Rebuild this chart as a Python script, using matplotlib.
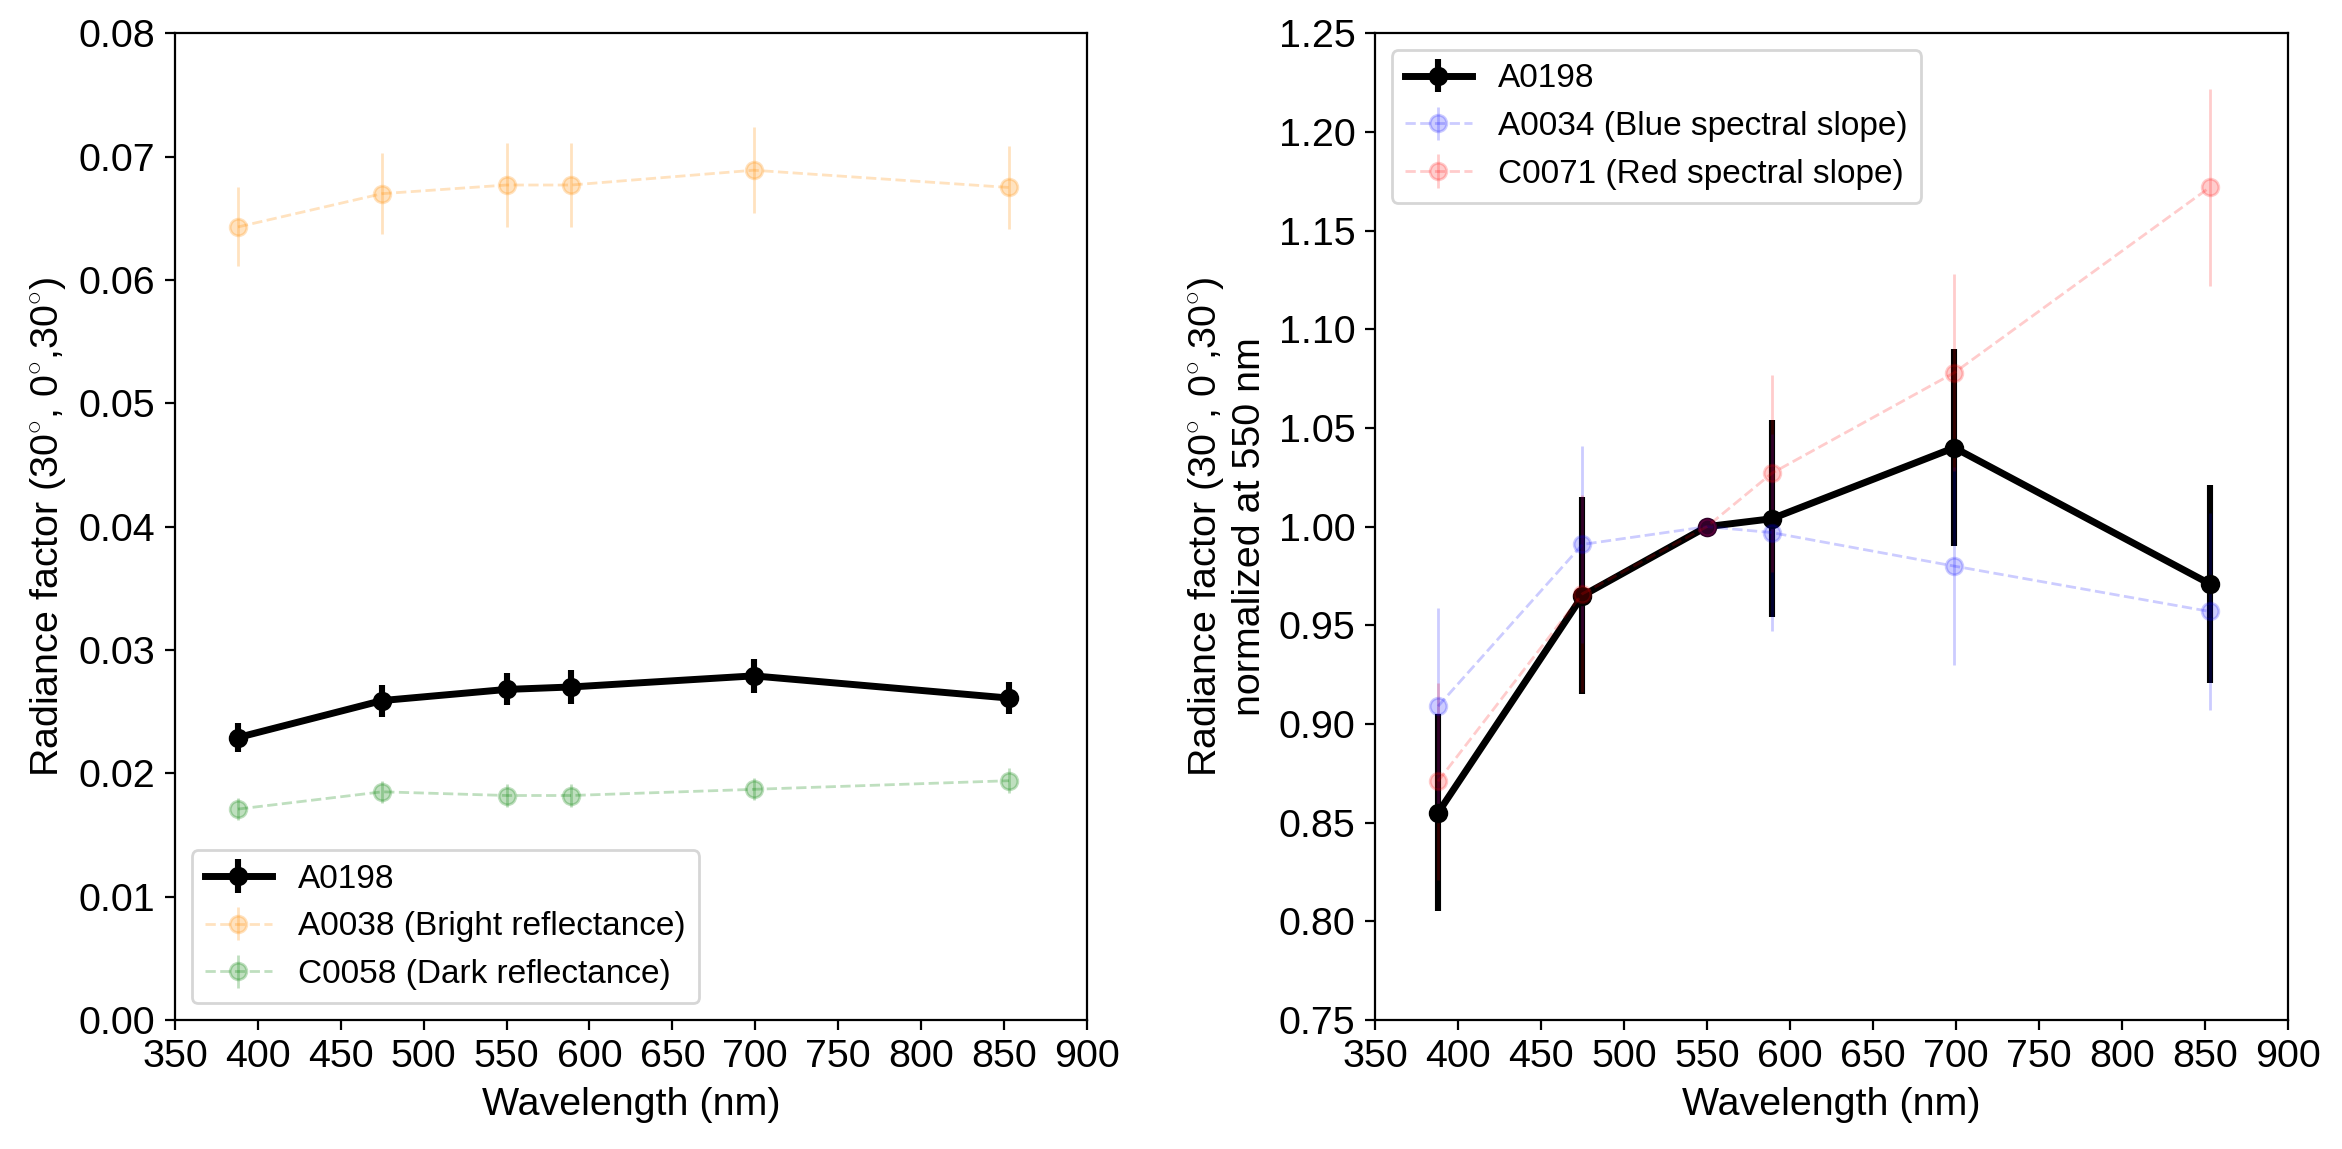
import numpy as np
import matplotlib
matplotlib.use("Agg")
import matplotlib.pyplot as plt

plt.rcParams['font.family'] = ['Liberation Sans', 'DejaVu Sans']
plt.rcParams['mathtext.fontset'] = 'custom'
plt.rcParams['mathtext.rm'] = 'Liberation Sans'

# wavelengths of the filters (nm)
wl = [388, 475, 550, 589, 699, 853]

# left panel: absolute radiance factor
a0198 = [0.0229, 0.0259, 0.0268, 0.0270, 0.0279, 0.0261]
a0198_err = [0.0012, 0.0013, 0.0013, 0.0014, 0.0014, 0.0013]
a0038 = [0.0643, 0.0670, 0.0677, 0.0677, 0.0689, 0.0675]
a0038_err = [0.0032, 0.0033, 0.0034, 0.0034, 0.0035, 0.0034]
c0058 = [0.0171, 0.0185, 0.0182, 0.0182, 0.0187, 0.0194]
c0058_err = [0.0009, 0.0009, 0.0009, 0.0009, 0.0009, 0.0010]

# right panel: normalized at 550 nm
a0198_n = [0.855, 0.965, 1.000, 1.004, 1.040, 0.971]
a0198_n_err = [0.05, 0.05, 0.0, 0.05, 0.05, 0.05]
a0034_n = [0.909, 0.991, 1.000, 0.997, 0.980, 0.957]
a0034_n_err = [0.05, 0.05, 0.0, 0.05, 0.05, 0.05]
c0071_n = [0.871, 0.966, 1.000, 1.027, 1.078, 1.172]
c0071_n_err = [0.05, 0.05, 0.0, 0.05, 0.05, 0.05]

ylab = "Radiance factor (30$^{\\circ}$, 0$^{\\circ}$,30$^{\\circ}$)"
fs = 14.2
lfs = 12

fig = plt.figure(figsize=(11.71, 5.745), dpi=200)
ax0 = fig.add_axes([0.0747, 0.1123, 0.3894, 0.8587])
ax1 = fig.add_axes([0.5871, 0.1123, 0.3898, 0.8587])

ax0.errorbar(wl, a0198, yerr=a0198_err, fmt='o-', color='k', lw=2.5, elinewidth=2.2, ms=6, label='A0198')
ax0.errorbar(wl, a0038, yerr=a0038_err, fmt='o--', color='darkorange', lw=1, ms=6, alpha=0.25, label='A0038 (Bright reflectance)')
ax0.errorbar(wl, c0058, yerr=c0058_err, fmt='o--', color='green', lw=1, ms=6, alpha=0.25, label='C0058 (Dark reflectance)')
ax0.set_xlim(350, 900)
ax0.set_ylim(0, 0.08)
ax0.set_xticks(np.arange(350, 901, 50))
ax0.set_xlabel("Wavelength (nm)", fontsize=fs)
ax0.set_ylabel(ylab, fontsize=fs)
ax0.tick_params(labelsize=fs)
ax0.legend(loc='lower left', fontsize=lfs)

ax1.errorbar(wl, a0198_n, yerr=a0198_n_err, fmt='o-', color='k', lw=2.5, elinewidth=2.2, ms=6, label='A0198')
ax1.errorbar(wl, a0034_n, yerr=a0034_n_err, fmt='o--', color='blue', lw=1, ms=6, alpha=0.2, label='A0034 (Blue spectral slope)')
ax1.errorbar(wl, c0071_n, yerr=c0071_n_err, fmt='o--', color='red', lw=1, ms=6, alpha=0.2, label='C0071 (Red spectral slope)')
ax1.set_xlim(350, 900)
ax1.set_ylim(0.75, 1.25)
ax1.set_xticks(np.arange(350, 901, 50))
ax1.set_yticks(np.arange(0.75, 1.2501, 0.05))
ax1.yaxis.set_major_formatter(matplotlib.ticker.FormatStrFormatter('%.2f'))
ax1.set_xlabel("Wavelength (nm)", fontsize=fs)
ax1.set_ylabel(ylab + "\nnormalized at 550 nm", fontsize=fs)
ax1.tick_params(labelsize=fs)
ax1.legend(loc='upper left', fontsize=lfs)

fig.savefig("out.png", dpi=200)
